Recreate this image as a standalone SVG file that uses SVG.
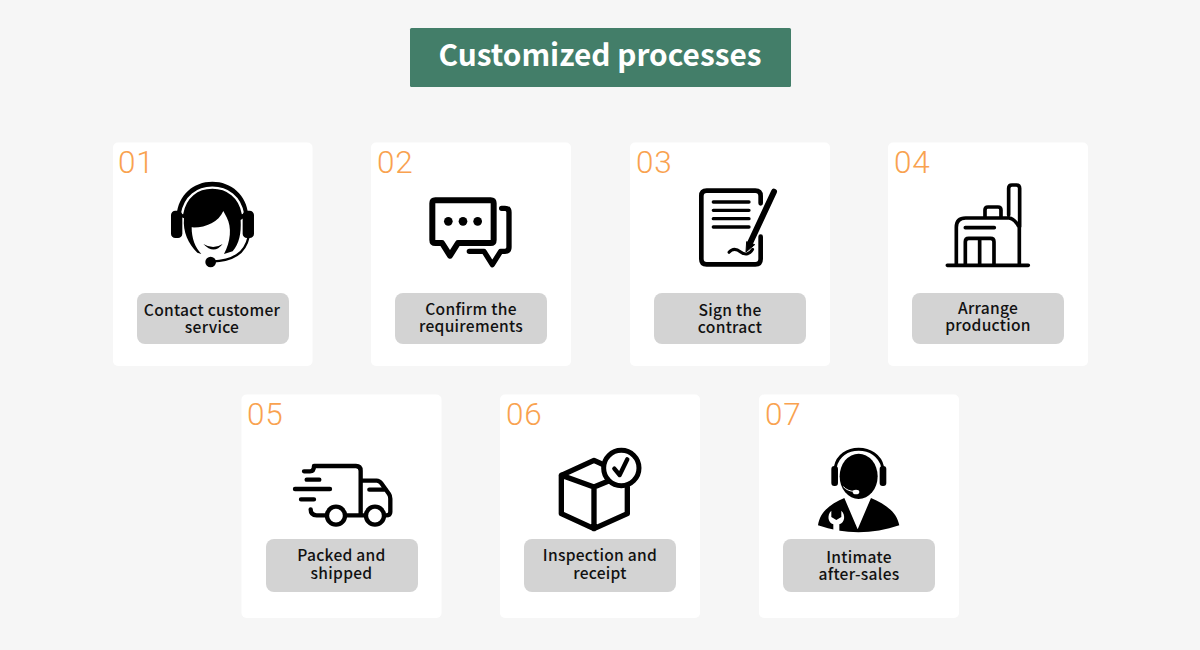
<svg xmlns="http://www.w3.org/2000/svg" width="1200" height="650" viewBox="0 0 1200 650">
<style>
.card{fill:#fff}
.tag{fill:#d3d3d3}
.num{font:300 31.500px Roboto,"Noto Sans",sans-serif;fill:#f9a24f;letter-spacing:.8px}
.lab{font:500 15.600px "Noto Sans CJK SC","Noto Sans",sans-serif;fill:#111;text-anchor:middle;letter-spacing:.27px}
.ttl{font:700 29.800px "Noto Sans CJK SC","Noto Sans",sans-serif;fill:#fff;text-anchor:middle}
.ln{fill:none;stroke:#000;stroke-linecap:round;stroke-linejoin:round}
</style>
<rect width="1200" height="650" fill="#f6f6f6"/>
<g id="title"><rect x="410" y="28" width="381" height="59" rx="1.5" fill="#437e69"/><text class="ttl" x="600" y="66">Customized processes</text></g>

<g id="node-01"><rect class="card" x="113" y="142.500" width="199.500" height="223.500" rx="5"/><text class="num" x="118" y="173">01</text>
<g transform="translate(110 140) scale(.3333)">
<path d="M200 225C205 165 250 125 307 125S410 165 415 225L392 240C394 280 388 310 368 334L342 342C362 305 366 262 350 232L340 213C325 248 285 264 245 262C245 295 255 322 274 342L262 338C235 312 218 275 222 235Z"/>
<path fill="none" stroke="#fff" stroke-width="7" d="M216 222C225 170 262 143 307 143S390 170 399 222"/>
<rect x="183" y="212" width="34" height="82" rx="13"/><rect x="398" y="212" width="34" height="82" rx="13"/>
<path d="M280 312Q310 330 338 312Q312 345 280 312Z"/>
<path class="ln" stroke-width="7" d="M305 365C370 362 405 340 416 290"/>
<circle cx="302" cy="366" r="16"/>
</g>
<rect class="tag" x="137" y="293" width="152" height="51" rx="8"/><text class="lab" y="316"><tspan x="212">Contact customer</tspan><tspan x="212" dy="17">service</tspan></text></g>

<g id="node-02"><rect class="card" x="371" y="142.500" width="200" height="223.500" rx="5"/><text class="num" x="377" y="173">02</text>
<g transform="translate(370 140) scale(.3333)">
<path class="ln" stroke-width="18" d="M196 181H362Q371 181 371 190V300Q371 309 362 309H264L240 347L216 309H196Q187 309 187 300V190Q187 181 196 181Z"/>
<circle cx="235" cy="244" r="13"/><circle cx="279" cy="244" r="13"/><circle cx="323" cy="244" r="13"/>
<path class="ln" stroke-width="16" d="M395 205H405Q417 205 417 217V322Q417 334 405 334H392L367 374L342 334H298"/>
</g>
<rect class="tag" x="395" y="293" width="152" height="51" rx="8"/><text class="lab" y="315"><tspan x="471">Confirm the</tspan><tspan x="471" dy="17">requirements</tspan></text></g>

<g id="node-03"><rect class="card" x="630" y="142.500" width="200" height="223.500" rx="5"/><text class="num" x="636" y="173">03</text>
<g transform="translate(630 140) scale(.3333)">
<path class="ln" stroke-width="14" d="M392 190V168Q392 152 376 152H230Q214 152 214 168V357Q214 373 230 373H376Q392 373 392 357V290"/>
<path class="ln" stroke-width="10" d="M250 186H357M250 211H357M250 236H357M250 261H357"/>
<path class="ln" stroke-width="18" d="M432 155L362 305"/>
<path d="M350 305L374 314L348 336Z" stroke="#000" stroke-width="3" stroke-linejoin="round"/>
<path class="ln" stroke-width="9" d="M297 337C310 322 322 328 332 336S358 346 368 328"/>
</g>
<rect class="tag" x="654" y="293" width="152" height="51" rx="8"/><text class="lab" y="316"><tspan x="730">Sign the</tspan><tspan x="730" dy="17">contract</tspan></text></g>

<g id="node-04"><rect class="card" x="888" y="142.500" width="200" height="223.500" rx="5"/><text class="num" x="894" y="173">04</text>
<g transform="translate(885 140) scale(.3333)">
<path class="ln" stroke-width="11" d="M187 376H430M214 376V262Q214 234 242 234H372Q389 236 403 262V376M371 225V145Q371 135 381 135H394Q404 135 404 145V260M300 230V210Q300 201 309 201H339Q348 201 348 210V230M241 376V305Q241 295 251 295H317Q327 295 327 305V376M284 295V376M241 263H328"/>
</g>
<rect class="tag" x="912" y="293" width="152" height="51" rx="8"/><text class="lab" y="314"><tspan x="988">Arrange</tspan><tspan x="988" dy="17">production</tspan></text></g>

<g id="node-05"><rect class="card" x="241.500" y="394.500" width="200" height="223.500" rx="5"/><text class="num" x="247" y="425">05</text>
<g transform="translate(240 392) scale(.3333)">
<g class="ln" stroke-width="13"><path d="M192 238H210Q222 238 222 222H348Q362 222 362 236V368M200 263H238M165 291H270M183 322H222M212 352Q212 370 230 370H258M318 370H378M364 266H410Q418 266 424 274L447 306Q451 312 451 320V360Q451 370 438 370M388 293H438"/>
<circle cx="288" cy="371" r="27" fill="#fff"/><circle cx="405" cy="371" r="27" fill="#fff"/></g>
</g>
<rect class="tag" x="266" y="539" width="152" height="53" rx="8"/><text class="lab" y="561"><tspan x="341.500">Packed and</tspan><tspan x="341.500" dy="18">shipped</tspan></text></g>

<g id="node-06"><rect class="card" x="500" y="394.500" width="200" height="223.500" rx="5"/><text class="num" x="506" y="425">06</text>
<g transform="translate(498 392) scale(.3333)">
<path class="ln" stroke-width="16" d="M325 222L288 205L190 250V365L288 410L388 365V285M190 250L288 285L330 268M288 285V410"/>
<circle cx="370" cy="228" r="53" fill="#fff" stroke="#000" stroke-width="15"/>
<path class="ln" stroke-width="13" d="M349 230L365 249L388 202"/>
</g>
<rect class="tag" x="524" y="539" width="152" height="53" rx="8"/><text class="lab" y="561"><tspan x="600">Inspection and</tspan><tspan x="600" dy="18">receipt</tspan></text></g>

<g id="node-07"><rect class="card" x="759" y="394.500" width="200" height="223.500" rx="5"/><text class="num" x="765" y="425">07</text>
<g transform="translate(756 392) scale(.3333)">
<path class="ln" stroke-width="9" d="M238 225C245 190 275 172 308 172S372 190 380 225"/>
<rect x="226" y="222" width="20" height="60" rx="9"/><rect x="371" y="222" width="20" height="60" rx="9"/>
<ellipse cx="308" cy="253" rx="57" ry="68"/>
<path d="M186 400C192 358 225 335 265 318L305 412L345 318C385 335 422 358 430 400C350 428 265 428 186 400Z"/>
<path d="M226 356C212 370 216 392 232 397V422H250V397C266 392 270 370 256 356V375L241 384L226 375Z" fill="#fff"/>
<path fill="none" stroke="#fff" stroke-width="3" d="M262 284Q275 298 295 298"/>
<ellipse cx="300" cy="300" rx="10" ry="7" fill="#fff"/>
</g>
<rect class="tag" x="783" y="539" width="152" height="53" rx="8"/><text class="lab" y="563"><tspan x="859">Intimate</tspan><tspan x="859" dy="17">after-sales</tspan></text></g>
</svg>
